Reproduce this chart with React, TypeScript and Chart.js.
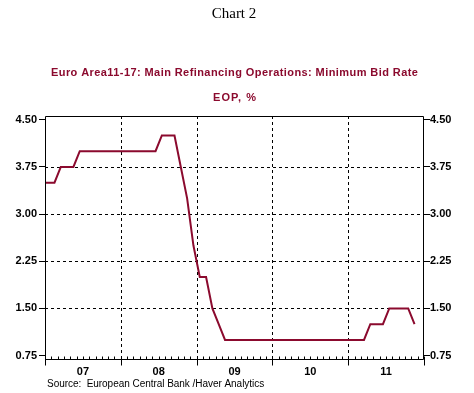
import React, { useEffect, useRef } from 'react';
import { Chart, registerables } from 'chart.js';

Chart.register(...registerables);

// ---- data ----
const months: string[] = [
  '2006-12',
  '2007-01', '2007-02', '2007-03', '2007-04', '2007-05', '2007-06', '2007-07', '2007-08', '2007-09', '2007-10', '2007-11', '2007-12',
  '2008-01', '2008-02', '2008-03', '2008-04', '2008-05', '2008-06', '2008-07', '2008-08', '2008-09', '2008-10', '2008-11', '2008-12',
  '2009-01', '2009-02', '2009-03', '2009-04', '2009-05', '2009-06', '2009-07', '2009-08', '2009-09', '2009-10', '2009-11', '2009-12',
  '2010-01', '2010-02', '2010-03', '2010-04', '2010-05', '2010-06', '2010-07', '2010-08', '2010-09', '2010-10', '2010-11', '2010-12',
  '2011-01', '2011-02', '2011-03', '2011-04', '2011-05', '2011-06', '2011-07', '2011-08', '2011-09', '2011-10', '2011-11',
];

const rates: number[] = [
  3.5,
  3.5, 3.5, 3.75, 3.75, 3.75, 4.0, 4.0, 4.0, 4.0, 4.0, 4.0, 4.0,
  4.0, 4.0, 4.0, 4.0, 4.0, 4.0, 4.25, 4.25, 4.25, 3.75, 3.25, 2.5,
  2.0, 2.0, 1.5, 1.25, 1.0, 1.0, 1.0, 1.0, 1.0, 1.0, 1.0, 1.0,
  1.0, 1.0, 1.0, 1.0, 1.0, 1.0, 1.0, 1.0, 1.0, 1.0, 1.0, 1.0,
  1.0, 1.0, 1.0, 1.25, 1.25, 1.25, 1.5, 1.5, 1.5, 1.5, 1.25,
];

const yTicks: number[] = [0.75, 1.5, 2.25, 3.0, 3.75, 4.5];
const yGridValues: number[] = [1.5, 2.25, 3.0, 3.75];
const yearLabels: string[] = ['07', '08', '09', '10', '11'];

const TITLE = 'Euro Area11-17: Main Refinancing Operations: Minimum Bid Rate';
const SUBTITLE = 'EOP, %';
const HEADER = 'Chart 2';
const SOURCE = 'Source:  European Central Bank /Haver Analytics';

const RED = '#8B0A2E';
const BASE_YEAR = 2007;

function monthToX(m: string): number {
  const [y, mo] = m.split('-').map(Number);
  return (y - BASE_YEAR) * 12 + (mo - 1) + 0.5;
}

function fitText(ctx: CanvasRenderingContext2D, text: string, left: number, y: number, width: number) {
  (ctx as any).letterSpacing = '0px';
  const w = ctx.measureText(text).width;
  const n = text.length;
  const ls = (width - w) / (n - 1);
  (ctx as any).letterSpacing = ls.toFixed(2) + 'px';
  ctx.textAlign = 'left';
  ctx.fillText(text, left, y);
  (ctx as any).letterSpacing = '0px';
}

const decorPlugin = {
  id: 'decor',
  beforeDatasetsDraw(chart: any) {
    const { ctx, chartArea: a, scales } = chart;
    const x = scales.x;
    const y = scales.y;
    ctx.save();
    ctx.strokeStyle = '#000';
    ctx.lineWidth = 1;
    ctx.setLineDash([3, 3]);
    yGridValues.forEach((v) => {
      const py = Math.round(y.getPixelForValue(v)) + 0.5;
      ctx.beginPath();
      ctx.moveTo(a.left, py);
      ctx.lineTo(a.right, py);
      ctx.stroke();
    });
    for (let i = 1; i < yearLabels.length; i++) {
      const px = Math.round(x.getPixelForValue(i * 12)) + 0.5;
      ctx.beginPath();
      ctx.moveTo(px, a.top);
      ctx.lineTo(px, a.bottom);
      ctx.stroke();
    }
    ctx.restore();
  },
  afterDatasetsDraw(chart: any) {
    const { ctx, chartArea: a, scales } = chart;
    const x = scales.x;
    ctx.save();
    ctx.strokeStyle = '#000';
    ctx.lineWidth = 1;
    ctx.setLineDash([]);
    const l = Math.round(a.left) + 0.5;
    const r = Math.round(a.right) - 0.5;
    const t = Math.round(a.top) + 0.5;
    const b = Math.round(a.bottom) - 0.5;
    ctx.beginPath();
    ctx.rect(l, t, r - l, b - t);
    ctx.stroke();
    // x ticks: major at years (down), minor monthly (up)
    for (let m = 0; m <= yearLabels.length * 12; m++) {
      const px = Math.round(x.getPixelForValue(m)) + 0.5;
      ctx.beginPath();
      if (m % 12 === 0) {
        ctx.moveTo(px, b - 3);
        ctx.lineTo(px, b + 6);
      } else {
        ctx.moveTo(px, b);
        ctx.lineTo(px, b - 3);
      }
      ctx.stroke();
    }
    ctx.restore();
  },
  afterDraw(chart: any) {
    const { ctx } = chart;
    ctx.save();
    ctx.textBaseline = 'middle';
    ctx.fillStyle = '#000';
    ctx.font = '15px "Liberation Serif", serif';
    ctx.textAlign = 'center';
    ctx.fillText(HEADER, 234, 14);
    ctx.fillStyle = RED;
    ctx.font = 'bold 11px "Liberation Sans", Arial, sans-serif';
    fitText(ctx, TITLE, 51, 72.5, 367);
    fitText(ctx, SUBTITLE, 213, 98, 43);
    ctx.fillStyle = '#000';
    ctx.font = '10px "Liberation Sans", Arial, sans-serif';
    fitText(ctx, SOURCE, 47, 384, 217);
    ctx.restore();
  },
};

export default function App() {
  const ref = useRef<HTMLCanvasElement | null>(null);

  useEffect(() => {
    if (!ref.current) return;
    const points = months.map((m, i) => ({ x: monthToX(m), y: rates[i] }));
    const tickFont = { family: '"Liberation Sans", Arial, sans-serif', size: 11, weight: 'bold' as const };
    const yCommon = {
      type: 'linear' as const,
      min: 0.68,
      max: 4.56,
      afterBuildTicks: (s: any) => {
        s.ticks = yTicks.map((v) => ({ value: v }));
      },
      ticks: {
        color: '#000',
        font: tickFont,
        callback: (v: any) => Number(v).toFixed(2),
      },
      grid: {
        drawOnChartArea: false,
        drawTicks: true,
        tickLength: 6,
        tickColor: '#000',
        color: '#000',
      },
      border: { display: false },
    };
    const chart = new Chart(ref.current, {
      type: 'line',
      data: {
        datasets: [
          {
            data: points,
            borderColor: RED,
            borderWidth: 2,
            pointRadius: 0,
            tension: 0,
            fill: false,
            clip: 0,
          },
        ],
      },
      options: {
        responsive: false,
        animation: false,
        layout: { padding: { top: 116, left: 0, right: 0, bottom: 0 } },
        plugins: {
          legend: { display: false },
          title: { display: false },
          tooltip: { enabled: false },
        },
        scales: {
          x: {
            type: 'linear',
            min: 0,
            max: yearLabels.length * 12,
            afterBuildTicks: (s: any) => {
              s.ticks = yearLabels.map((_, i) => ({ value: i * 12 + 6 }));
            },
            afterFit: (s: any) => {
              s.height = 33;
            },
            ticks: {
              color: '#000',
              font: tickFont,
              padding: 5,
              autoSkip: false,
              maxRotation: 0,
              callback: (v: any) => yearLabels[Math.round((Number(v) - 6) / 12)] ?? '',
            },
            grid: { display: false, drawTicks: false, tickLength: 0 },
            border: { display: false },
          },
          y: {
            ...yCommon,
            position: 'left',
            afterFit: (s: any) => {
              s.width = 45;
            },
            ticks: { ...yCommon.ticks, padding: 2 },
          },
          y2: {
            ...yCommon,
            position: 'right',
            afterFit: (s: any) => {
              s.width = 50;
            },
            ticks: { ...yCommon.ticks, padding: 0 },
          },
        },
      },
      plugins: [decorPlugin],
    } as any);
    return () => chart.destroy();
  }, []);

  return (
    <div style={{ position: 'absolute', left: 0, top: 0, width: 474, height: 393, background: '#fff' }}>
      <canvas ref={ref} width={474} height={393} style={{ display: 'block' }} />
    </div>
  );
}
